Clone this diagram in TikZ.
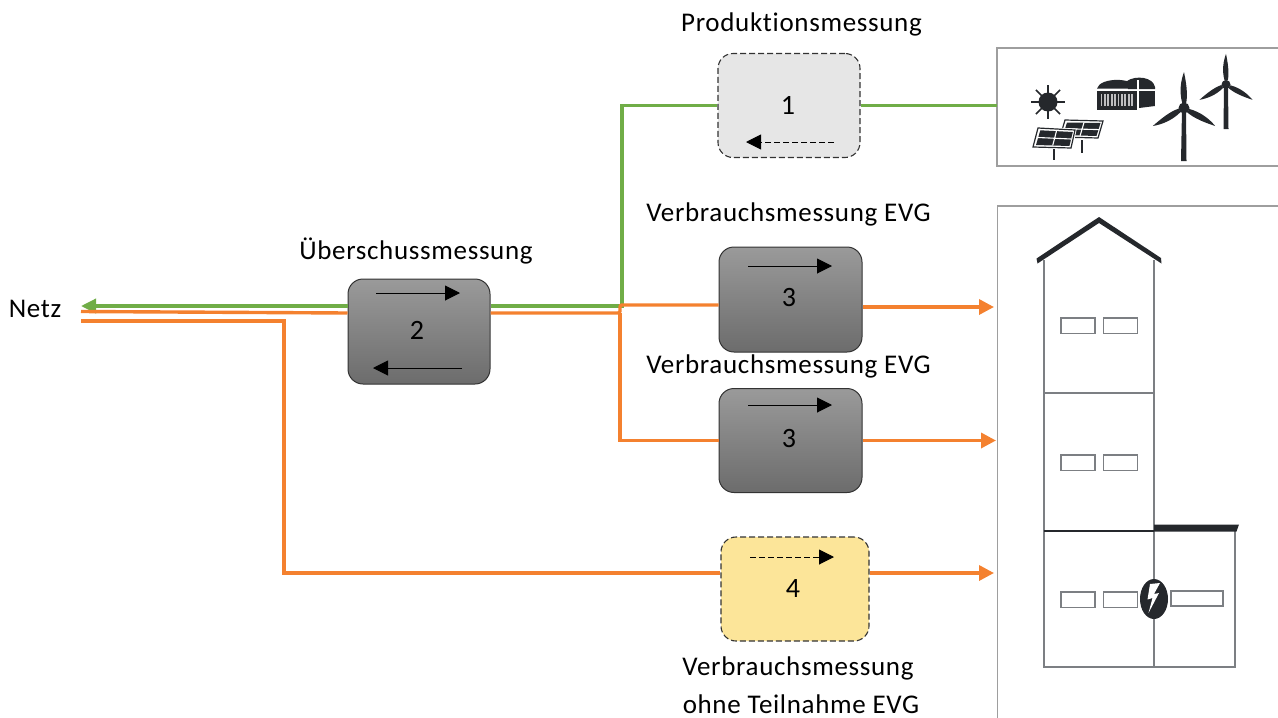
\documentclass[tikz,border=0pt]{standalone}
\usepackage{fontspec}
\setmainfont{Carlito}[LetterSpace=2.5,Ligatures=CommonOff]
\usetikzlibrary{arrows.meta,shapes.geometric,calc}
\definecolor{grn}{HTML}{70AD47}
\definecolor{org}{HTML}{F4812F}
\definecolor{ink}{HTML}{25282C}
\definecolor{wall}{HTML}{7C7F83}
\definecolor{ybox}{HTML}{FCE599}
\definecolor{gbox}{HTML}{E6E6E6}
\definecolor{gtop}{HTML}{9A9A9A}
\definecolor{gbot}{HTML}{6C6C6C}
\tikzset{
  x=1pt,y=-1pt,
  lbl/.style={inner sep=0pt,font=\fontsize{27}{30}\selectfont,text=black},
  num/.style={inner sep=0pt,font=\fontsize{28}{30}\selectfont,text=black},
  meter/.style={rounded corners=15pt,inner sep=0pt,draw=black!80,line width=1pt},
  dashmeter/.style={meter,dash pattern=on 6pt off 3pt,line width=1.1pt},
  solid meter/.style={meter,top color=gtop,bottom color=gbot},
  gline/.style={draw=grn,line width=3.4pt},
  oline/.style={draw=org,line width=3.4pt},
  oarrow/.style={oline,-{Triangle[length=15pt,width=15pt]}},
  garrow/.style={gline,-{Triangle[length=15pt,width=14pt]}},
  dir/.style={draw=black,line width=1pt,-{Triangle[length=15pt,width=15pt]}},
  dashdir/.style={dir,dash pattern=on 6pt off 3pt},
  frameline/.style={draw=black!38,line width=1.8pt},
  wallline/.style={draw=wall,line width=2pt},
  win/.style={draw=wall,line width=1.8pt,fill=white},
  dark/.style={fill=ink,draw=none},
}
\newcommand{\myturbine}[4]{% hub x, hub y, scale, hub radius
  \foreach \a in {0,120,240}{
    \begin{scope}[shift={(#1,#2)},rotate=\a,scale=#3]
      \fill[ink] (-1.8,-5) .. controls (-5,-17) and (-3,-28) .. (0,-36) .. controls (2,-26) and (4,-15) .. (2.2,-5) -- cycle;
    \end{scope}
  }
  \fill[ink] (#1,#2) circle[radius=#4pt];
}
\begin{document}
\begin{tikzpicture}
\useasboundingbox (0,0) rectangle (1278,718);

% frames
\draw[frameline] (1278,48) -- (997,48) -- (997,166) -- (1278,166);
\draw[frameline] (1278,206) -- (997.5,206) -- (997.5,718);

% meters
\node[dashmeter,fill=gbox,minimum width=142pt,minimum height=104pt] (b1) at (789,105.5) {};
\node[solid meter,minimum width=142pt,minimum height=105pt] (b2) at (419,331.5) {};
\node[solid meter,minimum width=143pt,minimum height=105pt] (b3) at (790.5,299.5) {};
\node[solid meter,minimum width=143pt,minimum height=104pt] (b5) at (790.5,440.5) {};
\node[dashmeter,fill=ybox,minimum width=148pt,minimum height=104pt] (b4) at (795,589) {};

% numbers
\node[num] (n1) at (788,105) {1};
\node[num] (n2) at (417,330) {2};
\node[num] (n3) at (789,298) {3};
\node[num] (n5) at (789,439) {3};
\node[num] (n4) at (793,589) {4};

% labels
\node[lbl] (l1) at (801.5,24) {Produktionsmessung};
\node[lbl] (l3) at (788.5,214) {Verbrauchsmessung EVG};
\node[lbl] (l5) at (788.5,366) {Verbrauchsmessung EVG};
\node[lbl] (l2) at (416,251) {Überschussmessung};
\node[lbl] (netz) at (35,309) {Netz};
\node[lbl] (l4a) at (798,668) {Verbrauchsmessung};
\node[lbl] (l4b) at (801,704) {ohne Teilnahme EVG};

% junctions and free ends
\coordinate (gj) at (622,306);
\coordinate (src) at (997,105.5);
\coordinate (gnetz) at (81,306);
\coordinate (onetz) at (81,311.5);
\coordinate (onetzb) at (81,321);
\coordinate (oj) at (620,313);
\coordinate (ojb) at (620,305);
\coordinate (lowc) at (284,321);
\coordinate (lowd) at (284,573);
\coordinate (t3) at (994,307);
\coordinate (t5) at (996,440.5);
\coordinate (t4) at (994,573);

% green connectors
\draw[gline] (b1.east) -- (src);
\draw[gline] (b1.west) -| (gj) -- (b2.east |- gj);
\draw[garrow] (b2.west |- gj) -- (gnetz);

% orange connectors
\draw[oline] (onetz) -- (b2.west |- oj);
\draw[oline,rounded corners=2pt] (b2.east |- oj) -- (oj) -- (ojb) -- (b3.west |- ojb);
\draw[oline] (oj) |- (b5.west);
\draw[oline] (onetzb) -- (lowc) -- (lowd) -- (b4.west |- lowd);
\draw[oarrow] (b3.east |- t3) -- (t3);
\draw[oarrow] (b5.east) -- (t5);
\draw[oarrow] (b4.east |- t4) -- (t4);

% direction arrows in meters
\coordinate (a2s) at (376,293); \coordinate (a2e) at (460,293);
\draw[dir] (a2s) -- (a2e);
\coordinate (a2t) at (462,368); \coordinate (a2u) at (373,368);
\draw[dir] (a2t) -- (a2u);
\coordinate (a1s) at (834,142); \coordinate (a1e) at (746,142);
\draw[dashdir] (a1s) -- (a1e);
\coordinate (a3s) at (748,266); \coordinate (a3e) at (832,266);
\draw[dir] (a3s) -- (a3e);
\coordinate (a5s) at (748,405); \coordinate (a5e) at (832,405);
\draw[dir] (a5s) -- (a5e);
\coordinate (a4s) at (750,557); \coordinate (a4e) at (834,557);
\draw[dashdir] (a4s) -- (a4e);

% production icons: sun
\fill[ink] (1048,102) circle[radius=9.5pt];
\foreach \a in {0,45,...,315}{
  \draw[ink,line width=1.5pt] (1048,102) -- ++(\a:17pt);
}
% biogas hall
\fill[ink] (1127,81) .. controls (1136,75) and (1153,77) .. (1155,87) -- (1155,89) -- (1128,89) -- cycle;
\fill[ink] (1139,91) rectangle (1155,106);
\fill[ink] (1139,106) -- (1155,106) -- (1139,108) -- cycle;
\fill[white] (1137,80) rectangle (1139,110);
\fill[ink] (1097,88.5) .. controls (1100,77) and (1134,77) .. (1137,88.5) -- cycle;
\fill[ink] (1097,90.5) rectangle (1137,110);
\foreach \i in {0,...,9}{
  \fill[white!70!ink] ({1100.5+3.4*\i},94) rectangle ({1102.3+3.4*\i},106);
}
% solar panels
\draw[ink,line width=1.2pt] (1082,140) -- (1082,153);
\draw[ink,line width=1.2pt,fill=white] (1065,120) -- (1103,121) -- (1098,138) -- (1060,137) -- cycle;
\fill[ink] (1067,122.5) -- (1100.5,123) -- (1096.5,136) -- (1063,135) -- cycle;
\draw[white,line width=1.1pt] (1084,122.5) -- (1080,136) (1065,128.7) -- (1099,129.6);
\draw[ink,line width=1.2pt,fill=white,preaction={draw=white,line width=3pt}] (1038,128) -- (1075,130) -- (1071,148) -- (1033,147) -- cycle;
\fill[ink] (1040.3,130.3) -- (1072.8,132) -- (1069.4,146) -- (1036,145) -- cycle;
\draw[white,line width=1.1pt] (1056.5,131) -- (1052.7,145.5) (1038,137.5) -- (1071,139);
\draw[ink,line width=1.8pt] (1054,149) -- (1054,160);
% wind turbines
\fill[ink] (1182,110) -- (1186,110) -- (1186.5,161) -- (1181,161) -- cycle;
\fill[ink] (1224,86) -- (1228,86) -- (1228.5,129) -- (1223.5,129) -- cycle;
\myturbine{1184}{108}{1}{5.5}
\myturbine{1226}{84.5}{0.85}{4.5}

% building
\draw[wallline] (1043.5,260) -- (1043.5,666.5) -- (1235,666.5) -- (1235,530);
\draw[wallline] (1154,260) -- (1154,666.5);
\draw[wallline] (1043.5,392.7) -- (1154,392.7);
\draw[ink,line width=1.8pt] (1043.5,531) -- (1154,531);
\fill[ink] (1154,524.5) -- (1239,524.5) -- (1236.5,531.5) -- (1154,531.5) -- cycle;
\fill[ink] (1099,217) -- (1161,258) -- (1161.5,263.5) -- (1099,223) -- (1037.5,263.5) -- (1036.5,258.5) -- cycle;
\foreach \y in {318,455,592}{
  \draw[win] (1061,\y) rectangle (1095,\y+15.5);
  \draw[win] (1103.5,\y) rectangle (1137.5,\y+15.5);
}
\draw[win] (1171,591) rectangle (1223,606);
\fill[ink] (1154,599) ellipse[x radius=14pt,y radius=20pt];
\fill[white] (1160,583) -- (1150,584) -- (1147.5,599.5) -- (1152.5,598) -- (1148.5,613) -- (1159,593) -- (1154,594) -- cycle;
\end{tikzpicture}
\end{document}
